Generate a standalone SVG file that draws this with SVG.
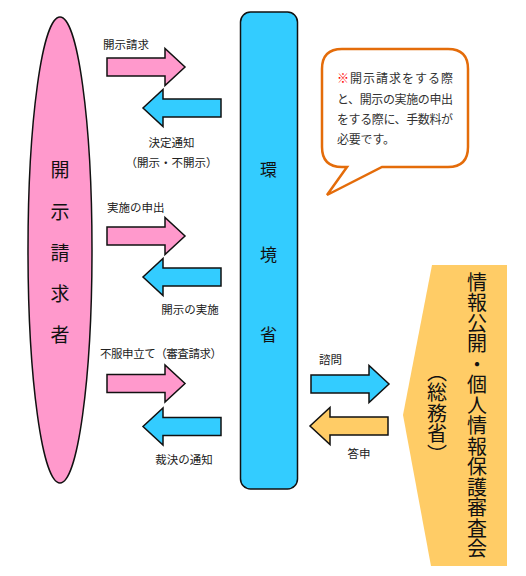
<svg xmlns="http://www.w3.org/2000/svg" xmlns:xlink="http://www.w3.org/1999/xlink" width="526" height="576" viewBox="0 0 526 576">
<style>
  .lbl{font-family:"Noto Sans CJK JP","Noto Sans",sans-serif;font-size:11.5px;fill:#222}
  .big{font-family:"Noto Sans CJK JP","Noto Sans",sans-serif;font-size:19px;fill:#111;text-anchor:middle}
  .mid{font-family:"Noto Sans CJK JP","Noto Sans",sans-serif;font-size:17px;fill:#111;text-anchor:middle}
  .note{font-family:"Noto Sans CJK JP",serif;font-size:12px;fill:#333}
  .vert{font-family:"Noto Sans CJK JP","Noto Sans",sans-serif;font-size:20px;fill:#111;writing-mode:vertical-rl;letter-spacing:0.5px}
  .pink{fill:#FF99CC}
  .blue{fill:#33CCFF}
  .orng{fill:#FFCC66}
  .arr{stroke:#111;stroke-width:1.5;stroke-linejoin:miter}
</style>
<defs>
  <polygon id="ar" points="-78,-9 -20,-9 -20,-18.5 0,0 -20,18.5 -20,9 -78,9"/>
</defs>
<rect width="526" height="576" fill="#fff"/>

<g id="requester">
  <ellipse cx="60" cy="250" rx="32" ry="233" class="pink" stroke="#111" stroke-width="1.5"/>
  <text class="big" x="60" y="177">開</text>
  <text class="big" x="60" y="219">示</text>
  <text class="big" x="60" y="260">請</text>
  <text class="big" x="60" y="301">求</text>
  <text class="big" x="60" y="342">者</text>
</g>

<g id="ministry">
  <rect x="240.5" y="12" width="57" height="477" rx="10" class="blue" stroke="#111" stroke-width="1.5"/>
  <text class="mid" x="268.5" y="176">環</text>
  <text class="mid" x="268.5" y="261">境</text>
  <text class="mid" x="268.5" y="341">省</text>
</g>

<g id="note">
  <path d="M342,49 H448 Q468,49 468,69 V147 Q468,167 448,167 H382 L327,195 L347,167 H342 Q322,167 322,147 V69 Q322,49 342,49 Z" fill="#fff" stroke="#E46C0A" stroke-width="2.5"/>
  <text class="note" x="337" y="83" textLength="116" lengthAdjust="spacing"><tspan fill="#FF0000">※</tspan>開示請求をする際</text>
  <text class="note" x="337" y="104" textLength="116" lengthAdjust="spacing">と、開示の実施の申出</text>
  <text class="note" x="337" y="124" textLength="116" lengthAdjust="spacing">をする際に、手数料が</text>
  <text class="note" x="337" y="144" textLength="58" lengthAdjust="spacing">必要です。</text>
</g>

<g id="board">
  <polygon points="432,265 507,265 507,566 431,566 403,415" class="orng"/>
  <text class="vert" x="477" y="272">情報公開・個人情報保護審査会</text>
  <text class="vert" x="437" y="362">（総務省）</text>
</g>

<g id="connectors">
  <use xlink:href="#ar" class="pink arr" transform="translate(185,67)"/>
  <use xlink:href="#ar" class="blue arr" transform="translate(143,108) scale(-1,1)"/>
  <use xlink:href="#ar" class="pink arr" transform="translate(185,236)"/>
  <use xlink:href="#ar" class="blue arr" transform="translate(143,277) scale(-1,1)"/>
  <use xlink:href="#ar" class="pink arr" transform="translate(185,383.5)"/>
  <use xlink:href="#ar" class="blue arr" transform="translate(143,426.5) scale(-1,1)"/>
  <use xlink:href="#ar" class="blue arr" transform="translate(389,384)"/>
  <use xlink:href="#ar" class="orng arr" transform="translate(310,426) scale(-1,1)"/>
  <text class="lbl" x="103" y="49">開示請求</text>
  <text class="lbl" x="171.5" y="147" text-anchor="middle">決定通知</text>
  <text class="lbl" x="171.5" y="167" text-anchor="middle">（開示・不開示）</text>
  <text class="lbl" x="107" y="212">実施の申出</text>
  <text class="lbl" x="190" y="314" text-anchor="middle">開示の実施</text>
  <text class="lbl" x="100" y="358" textLength="122" lengthAdjust="spacing">不服申立て（審査請求）</text>
  <text class="lbl" x="184" y="464" text-anchor="middle">裁決の通知</text>
  <text class="lbl" x="319" y="364">諮問</text>
  <text class="lbl" x="359" y="458" text-anchor="middle">答申</text>
</g>
</svg>
